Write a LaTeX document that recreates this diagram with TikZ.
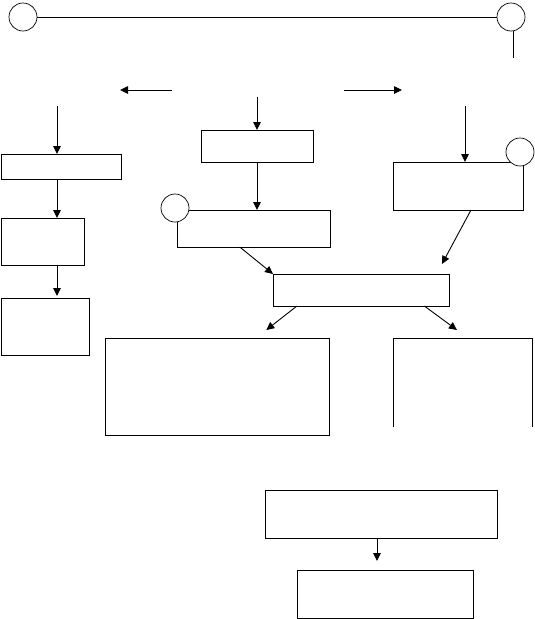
\documentclass[tikz,border=0pt]{standalone}
\usepackage{xcolor}
\usepackage{tikz}
\usetikzlibrary{shapes,arrows.meta,positioning,calc}
\tikzset{
    flowbox/.style={
        rectangle,
        draw=black,
        line width=0.9pt,
        inner sep=0pt,
        outer sep=0pt,
        anchor=north west
    },
    ring/.style={
        circle,
        draw=black,
        fill=white,
        line width=0.7pt,
        inner sep=0pt,
        minimum size=28pt
    },
    flow/.style={
        -{Triangle[length=8pt,width=7.5pt]},
        line width=0.9pt
    }
}
\begin{document}
\begin{tikzpicture}[x=1pt, y=-1pt]
\useasboundingbox (0,0) rectangle (535,619);

% Left column
\node[flowbox, minimum width=120pt, minimum height=25pt] (left-a) at (1,154) {};
\node[flowbox, minimum width=83pt, minimum height=47pt] (left-b) at (1,218) {};
\node[flowbox, minimum width=88pt, minimum height=57pt] (left-c) at (1,298) {};

% Centre column
\node[flowbox, minimum width=112pt, minimum height=32pt] (mid-a) at (201,130) {};
\node[flowbox, minimum width=153pt, minimum height=37pt] (mid-b) at (177,210) {};

% Right column
\node[flowbox, minimum width=130pt, minimum height=48pt] (right-a) at (393,162) {};

% Merge and branches
\node[flowbox, minimum width=176pt, minimum height=32pt] (merge) at (273,274) {};
\node[flowbox, minimum width=224pt, minimum height=97pt] (branch-l) at (105,338) {};
\node[flowbox, draw=none, minimum width=139pt, minimum height=89pt] (branch-r) at (393,338) {};
\draw[line width=0.9pt] (branch-r.south west) -- (branch-r.north west) -- (branch-r.north east) -- (branch-r.south east);

% Bottom pair
\node[flowbox, minimum width=232pt, minimum height=48pt] (low-a) at (265,490) {};
\node[flowbox, minimum width=176pt, minimum height=48pt] (low-b) at (297,570) {};

% Circles
\node[ring] (ring-l) at (23,17) {};
\node[ring] (ring-r) at (511,17) {};
\node[ring] (ring-m) at (175,208) {};
\node[ring] (ring-ra) at (520,152) {};

% Free ends
\coordinate (drop) at (513,58);
\coordinate (west-from) at (172,90);
\coordinate (west-to) at (120,90);
\coordinate (east-from) at (344,90);
\coordinate (east-to) at (402,90);
\coordinate (feed-l) at (57,106);
\coordinate (feed-m) at (257,97);
\coordinate (feed-r) at (465,106);

% Connectors
\draw[line width=0.9pt] (ring-l) -- (ring-r);
\draw[line width=0.9pt] (ring-r.south -| drop) -- (drop);
\draw[flow] (west-from) -- (west-to);
\draw[flow] (east-from) -- (east-to);

\draw[flow] (feed-l) -- (left-a.north -| feed-l);
\draw[flow] (left-a.south -| feed-l) -- (left-b.north -| feed-l);
\draw[flow] (left-b.south -| feed-l) -- ($(left-c.north -| feed-l)+(0,-2)$);

\draw[flow] (feed-m) -- (mid-a.north);
\draw[flow] (mid-a.south) -- (mid-b.north -| mid-a.south);
\draw[flow] ($(mid-b.south west)!0.41!(mid-b.south east)$) -- (merge.north west);

\draw[flow] (feed-r) -- (right-a.north -| feed-r);
\draw[flow] ($(right-a.south west)!0.6!(right-a.south east)$) -- ($(merge.north west)!0.96!(merge.north east)+(0,-10)$);

\draw[flow] ($(merge.south west)!0.136!(merge.south east)$) -- ($(branch-l.north west)!0.72!(branch-l.north east)+(0,-8)$);
\draw[flow] ($(merge.south west)!0.86!(merge.south east)$) -- ($(branch-r.north west)!0.46!(branch-r.north east)+(0,-8)$);

\draw[flow] ($(low-a.south)+(-4,0)$) -- ($(low-a.south |- low-b.north)+(-4,-9)$);
\end{tikzpicture}
\end{document}
